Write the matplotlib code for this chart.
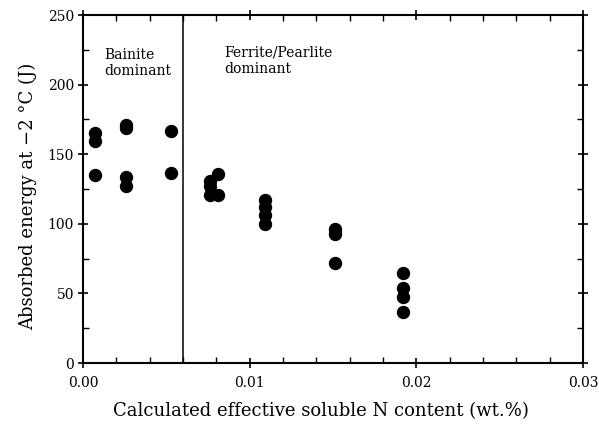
import matplotlib
matplotlib.use("Agg")
import matplotlib.pyplot as plt
from matplotlib.ticker import MultipleLocator, FormatStrFormatter

# effective soluble N (wt.%) and absorbed energy at -2 C (J)
n_content = [0.0007, 0.0007, 0.0007,
             0.0026, 0.0026, 0.0026, 0.0026,
             0.0053, 0.0053,
             0.0076, 0.0076, 0.0076, 0.0081, 0.0081,
             0.0109, 0.0109, 0.0109, 0.0109,
             0.0151, 0.0151, 0.0151,
             0.0192, 0.0192, 0.0192, 0.0192]
energy = [165.5, 159.5, 135,
          171, 169, 133.5, 127,
          167, 136.5,
          130.5, 127, 120.5, 135.5, 120.5,
          117, 112, 106.5, 100,
          96, 93, 72,
          65, 54, 47.5, 36.5]
boundary = 0.006

plt.rcParams['font.family'] = ['DejaVu Serif']

fig = plt.figure(figsize=(5.99, 4.29), dpi=100)
ax = fig.add_axes([0.1386, 0.1538, 0.8347, 0.8112])

ax.plot(n_content, energy, 'o', color='k', markersize=8.6, linestyle='none')
ax.axvline(boundary, color='k', linewidth=1.1)

ax.set_xlim(0, 0.03)
ax.set_ylim(0, 250)
ax.xaxis.set_major_locator(MultipleLocator(0.01))
ax.xaxis.set_minor_locator(MultipleLocator(0.002))
ax.yaxis.set_major_locator(MultipleLocator(50))
ax.yaxis.set_minor_locator(MultipleLocator(25))
ax.xaxis.set_major_formatter(FormatStrFormatter('%.2f'))

for s in ax.spines.values():
    s.set_linewidth(1.5)
ax.tick_params(which='major', direction='inout', length=7, width=1.2,
               labelsize=10, top=True, right=True)
ax.tick_params(which='minor', direction='in', length=4, width=1.0,
               top=True, right=True)
ax.tick_params(axis='x', which='major', pad=6)
ax.tick_params(axis='y', which='major', pad=3)

ax.text(0.0013, 218.5, 'Bainite', fontsize=10)
ax.text(0.0013, 207, 'dominant', fontsize=10)
ax.text(0.0085, 220, 'Ferrite/Pearlite', fontsize=10)
ax.text(0.0085, 208.5, 'dominant', fontsize=10)

ax.set_xlabel('Calculated effective soluble N content (wt.%)', fontsize=13)
ax.set_ylabel('Absorbed energy at \u22122 \u00b0C (J)', fontsize=13)
ax.xaxis.set_label_coords(0.475, -0.112)
ax.yaxis.set_label_coords(-0.092, 0.48)

fig.savefig('out.png', dpi=100)
